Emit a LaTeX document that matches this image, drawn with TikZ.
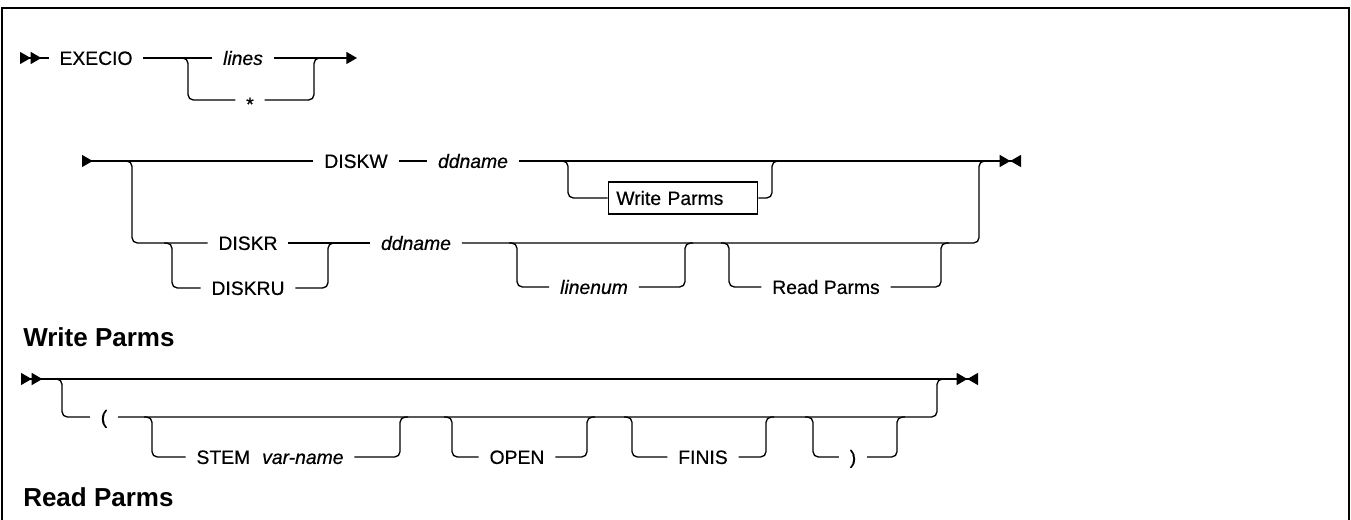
\documentclass[tikz,border=0pt]{standalone}
\usepackage{fontspec}
\setmainfont{Liberation Sans}
\newfontfamily\railfont{Liberation Sans}[FakeBold=0.5]
\usetikzlibrary{arrows.meta,calc,positioning}

\tikzset{
  tri/.tip={Triangle[length=8pt,width=9pt]},
  rail/.style={line width=1pt, rounded corners=4pt},
  kw/.style={font=\railfont\fontsize{14.5pt}{17pt}\selectfont, inner xsep=8pt, inner ysep=0pt,
    text height=10.4pt, text depth=0pt},
  var/.style={kw, font=\railfont\fontsize{14.5pt}{17pt}\selectfont\itshape},
  boxed/.style={kw, draw, line width=1pt, align=left, text width=100pt, inner xsep=6pt,
    minimum height=24pt},
  head/.style={font=\fontsize{19.5pt}{22pt}\selectfont\bfseries, anchor=west, inner sep=0pt,
    text height=14pt, text depth=0pt}
}

\begin{document}
\begin{tikzpicture}[x=0.75pt, y=-0.75pt]
\useasboundingbox (0,0) rectangle (1351,520);
% Cornice
\draw[line width=1.5pt] (2,520) -- (2,8) -- (1349,8) -- (1349,520);

% Riga EXECIO
\coordinate (r1s) at (20,58);
\coordinate (r1a) at (188,58);
\coordinate (r1b) at (314,58);
\coordinate (r1e) at (357,58);
\node[kw] (execio) at (96,58) {EXECIO};
\node[var] (lines) at (243,58) {lines};
\node[kw] (star) at (250,100) {\raisebox{-3pt}{*}};
\draw[rail, {tri[reversed] tri[reversed]}-] (r1s) -- (execio);
\draw[rail] (execio) -- (lines);
\draw[rail, -{tri[]}] (lines) -- (r1e);
\draw[rail] ($(r1a)+(-8,0)$) -- (r1a) |- (star);
\draw[rail] (star) -| (r1b) -- ++(8,0);

% Riga DISKW
\coordinate (r2s) at (82,161);
\coordinate (r2a) at (132,161);
\coordinate (r2b) at (979,161);
\coordinate (r2e) at (1021,161);
\node[kw] (diskw) at (356,161) {DISKW};
\node[var] (ddw) at (473,161) {ddname};
\draw[rail, {tri[reversed]}-] (r2s) -- (diskw);
\draw[rail] (diskw) -- (ddw);
\draw[rail, -{tri[] tri[reversed]}] (ddw) -- (r2e);
\coordinate (wpa) at (568,161);
\coordinate (wpb) at (772,161);
\node[boxed] (wpbox) at (683,198) {Write Parms};
\draw[rail] ($(wpa)+(-8,0)$) -- (wpa) |- (wpbox);
\draw[rail] (wpbox) -| (wpb) -- ++(8,0);

% Riga DISKR / DISKRU
\node[kw] (diskr) at (248,243) {DISKR};
\node[kw] (diskru) at (248,288) {DISKRU};
\node[var] (ddr) at (416,243) {ddname};
\coordinate (dra) at (172,243);
\coordinate (drb) at (328,243);
\draw[rail] ($(r2a)+(-8,0)$) -- (r2a) |- (diskr);
\draw[rail] (diskr) -- (ddr);
\draw[rail] ($(dra)+(-8,0)$) -- (dra) |- (diskru);
\draw[rail] (diskru) -| (drb) -- ++(8,0);
\draw[rail] (ddr) -| (r2b) -- ++(8,0);

% Parametri opzionali di lettura
\foreach \n/\lab/\cx/\xa/\xb in {ln/\textit{linenum}/594/517/685, rp/Read Parms/826/729/941}{
  \node[kw] (\n) at (\cx,287) {\lab};
  \draw[rail] (\xa-8,243) -- (\xa,243) |- (\n);
  \draw[rail] (\n) -| (\xb,243) -- ++(8,0);
}

% Write Parms
\node[head] (wphead) at (23,337) {Write Parms};
\coordinate (wps) at (21,379);
\coordinate (wpe) at (978,379);
\coordinate (pa) at (62,379);
\coordinate (pb) at (937,379);
\node[kw] (lpar) at (104,417) {(};
\draw[rail, {tri[reversed] tri[reversed]}-{tri[] tri[reversed]}] (wps) -- (wpe);
\draw[rail] ($(pa)+(-8,0)$) -- (pa) |- (lpar);
\draw[rail] (lpar) -| (pb) -- ++(8,0);
\foreach \n/\lab/\cx/\xa/\xb in {stem/{STEM\hspace{9pt}\textit{var-name}}/270/152/400,
    open/OPEN/517/452/587, finis/FINIS/703/632/766, rpar/)/853/813/897}{
  \node[kw] (\n) at (\cx,457) {\lab};
  \draw[rail] (\xa-8,417) -- (\xa,417) |- (\n);
  \draw[rail] (\n) -| (\xb,417) -- ++(8,0);
}

% Read Parms
\node[head] (rphead) at (23,497) {Read Parms};

\end{tikzpicture}
\end{document}
